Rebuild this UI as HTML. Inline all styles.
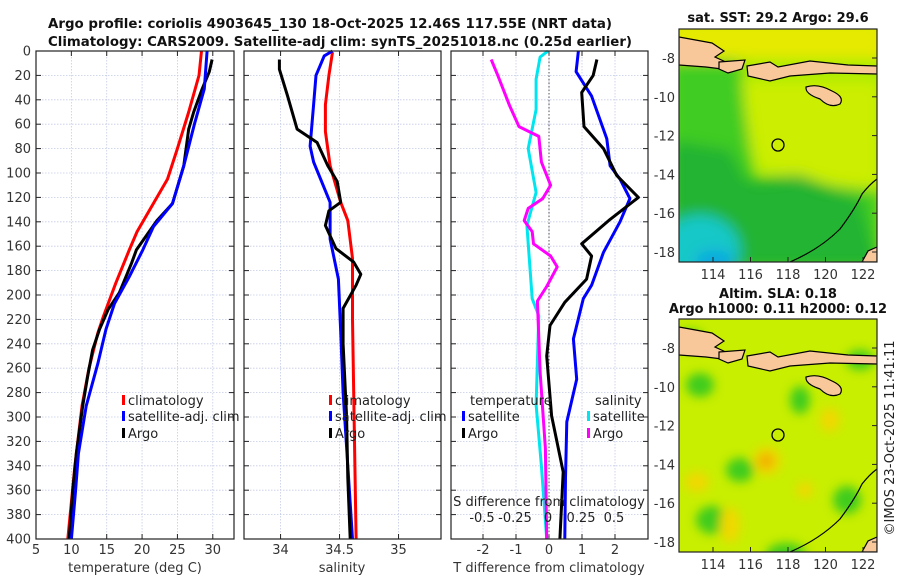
<!DOCTYPE html>
<html><head><meta charset="utf-8">
<style>
html,body{margin:0;padding:0;background:#fff;}
svg{display:block;font-family:"DejaVu Sans","Liberation Sans",sans-serif;}
</style></head>
<body>
<svg id="fig" width="900" height="580" viewBox="0 0 900 580" xmlns="http://www.w3.org/2000/svg">
<defs>
<filter id="blur6" x="-20%" y="-20%" width="140%" height="140%"><feGaussianBlur stdDeviation="7"/></filter>
<filter id="blur4" x="-20%" y="-20%" width="140%" height="140%"><feGaussianBlur stdDeviation="5"/></filter>
<clipPath id="clipTop"><rect x="679" y="29" width="198" height="233"/></clipPath>
<clipPath id="clipBot"><rect x="679" y="319" width="198" height="233"/></clipPath>
</defs>
<text x="48" y="28" textLength="564" lengthAdjust="spacingAndGlyphs" font-size="13" font-weight="bold" fill="#111">Argo profile: coriolis 4903645_130 18-Oct-2025 12.46S 117.55E (NRT data)</text>
<text x="48" y="46" textLength="584" lengthAdjust="spacingAndGlyphs" font-size="13" font-weight="bold" fill="#111">Climatology: CARS2009. Satellite-adj clim: synTS_20251018.nc (0.25d earlier)</text>
<g id="panels"></g>
<g id="maps"></g>
<text transform="translate(894,438) rotate(-90)" text-anchor="middle" font-size="13" fill="#222">©IMOS 23-Oct-2025 11:41:11</text>
</svg>
<script>
// ---------- data ----------
const depthTicks = [0,20,40,60,80,100,120,140,160,180,200,220,240,260,280,300,320,340,360,380,400];
const tempTicks = [5,10,15,20,25,30];
const salTicks = [34,34.5,35];
const salTickLabels = ["34","34.5","35"];
const tdiffTicks = [-2,-1,0,1,2];
const sdiffTicks = [-0.5,-0.25,0,0.25,0.5];
const sdiffTickLabels = ["-0.5","-0.25","0","0.25","0.5"];

const tClimDepth = [0,20,50,80,105,124,148,163,190,218,231,260,291,340,400];
const tClimVal   = [28.4,28.05,26.6,25.0,23.6,21.7,19.3,18.2,16.3,14.5,13.75,12.5,11.5,10.5,9.5];
const tSatDepth  = [0,31,60,94,125,144,163,185,207,228,256,291,330,360,400];
const tSatVal    = [29.2,28.8,27.4,25.9,24.3,21.6,20.1,18.2,16.1,14.9,13.75,12.1,11.0,10.6,10.0];
const tArgoDepth = [7,17,31,50,64,94,125,139,163,174,198,212,228,245,267,291,330,360,400];
const tArgoVal   = [29.9,29.5,28.5,27.3,26.6,25.9,24.3,22.1,19.2,18.5,16.8,15.2,14.0,13.0,12.3,11.6,10.7,10.2,9.7];

const sClimDepth = [1,20,44,66,94,124,139,170,220,280,340,400];
const sClimVal   = [34.44,34.41,34.38,34.38,34.42,34.51,34.57,34.61,34.61,34.62,34.63,34.64];
const sSatDepth  = [0,4,20,44,78,91,124,154,187,230,280,340,400];
const sSatVal    = [34.44,34.37,34.30,34.28,34.25,34.28,34.42,34.42,34.49,34.51,34.53,34.57,34.61];
const sArgoDepth = [7,15,37,64,75,94,107,124,131,143,162,173,183,192,211,240,300,350,400];
const sArgoVal   = [33.99,33.99,34.06,34.14,34.31,34.40,34.48,34.51,34.41,34.38,34.47,34.62,34.68,34.64,34.53,34.53,34.56,34.57,34.59];

const dtSatDepth = [0,17,37,72,94,105,121,140,165,192,203,236,269,304,350,400];
const dtSatVal   = [0.89,0.82,1.29,1.75,1.85,2.15,2.45,2.15,1.65,1.29,1.04,0.74,0.84,0.54,0.50,0.48];
const dtArgoDepth = [7,20,34,62,80,102,120,138,158,168,187,206,225,250,299,345,400];
const dtArgoVal   = [1.45,1.34,0.99,1.06,1.65,2.05,2.71,1.85,0.99,1.29,1.14,0.48,0.03,-0.07,0.08,0.43,0.33];
const dsSatDepth = [0,5,23,48,80,116,143,203,217,290,340,400];
const dsSatVal   = [0,-0.06,-0.09,-0.09,-0.15,-0.09,-0.16,-0.12,-0.07,-0.09,-0.05,-0.01];
const dsArgoDepth = [7,20,45,62,70,91,110,121,129,139,148,158,168,177,193,205,263,326,400];
const dsArgoVal   = [-0.43,-0.38,-0.29,-0.22,-0.07,-0.05,0.02,-0.04,-0.15,-0.18,-0.12,-0.11,0.02,0.07,-0.01,-0.08,-0.06,-0.02,-0.01];

// ---------- helpers ----------
const NS="http://www.w3.org/2000/svg";
function mk(tag,attrs,parent,text){const e=document.createElementNS(NS,tag);for(const k in attrs)e.setAttribute(k,attrs[k]);if(text!==undefined)e.textContent=text;parent.appendChild(e);return e;}
const TOP=51,BOT=539;
const yD=d=>TOP+(d/400)*(BOT-TOP);
const panelsG=document.getElementById('panels');

function panel(x0,x1,xmin,xmax,name){
  const g=mk('g',{},panelsG);
  
  
  const sx=v=>x0+(v-xmin)/(xmax-xmin)*(x1-x0);
  return {g,sx,x0,x1};
}
function grid(P,ticks){
  ticks.forEach(t=>{const l=mk('line',{x1:P.sx(t),x2:P.sx(t),y1:TOP,y2:BOT,stroke:'#c4cbe6','stroke-width':0.8,'stroke-dasharray':'1.5,1.5'},P.g);
    
    mk('line',{x1:P.sx(t),x2:P.sx(t),y1:BOT,y2:BOT-5,stroke:'#222'},P.g);
    mk('line',{x1:P.sx(t),x2:P.sx(t),y1:TOP,y2:TOP+5,stroke:'#222'},P.g);});
  depthTicks.forEach(d=>{if(d>0&&d<400){const l=mk('line',{x1:P.x0,x2:P.x1,y1:yD(d),y2:yD(d),stroke:'#c4cbe6','stroke-width':0.8,'stroke-dasharray':'1.5,1.5'},P.g);
    }
    mk('line',{x1:P.x0,x2:P.x0+5,y1:yD(d),y2:yD(d),stroke:'#222'},P.g);
    mk('line',{x1:P.x1,x2:P.x1-5,y1:yD(d),y2:yD(d),stroke:'#222'},P.g);});
}
function frame(P){const r=mk('rect',{x:P.x0,y:TOP,width:P.x1-P.x0,height:BOT-TOP,fill:'none',stroke:'#222','stroke-width':1.2},P.g);
  }
function line(P,depths,vals,color,name,sx){
  const f=sx||P.sx;
  const pts=depths.map((d,i)=>f(vals[i]).toFixed(1)+','+yD(d).toFixed(1)).join(' ');
  const pl=mk('polyline',{points:pts,fill:'none',stroke:color,'stroke-width':3,'stroke-linejoin':'round'},P.g);
  
  
}
function legendItem(g,x,y,color,label,name){
  const lg=mk('g',{},g);
  
  
  mk('rect',{x:x,y:y-10,width:3,height:10,fill:color},lg);
  mk('text',{x:x+6,y:y,'font-size':13,fill:'#222'},lg,label);
}

// Panel 1: temperature
const P1=panel(36,234,5,33,'temperature-panel');
grid(P1,tempTicks);
tempTicks.forEach(t=>mk('text',{x:P1.sx(t),y:554,'text-anchor':'middle','font-size':13,fill:'#333'},P1.g,String(t)));
depthTicks.forEach(d=>mk('text',{x:31,y:yD(d)+4.5,'text-anchor':'end','font-size':13,fill:'#333'},P1.g,String(d)));
{const t=mk('text',{x:135,y:572,'text-anchor':'middle','font-size':13,fill:'#333'},P1.g,'temperature (deg C)');}
line(P1,tClimDepth,tClimVal,'#ff0000','temp-climatology-line');
line(P1,tArgoDepth,tArgoVal,'#000000','temp-argo-line');
line(P1,tSatDepth,tSatVal,'#0000ff','temp-satellite-line');
frame(P1);
legendItem(P1.g,122,405,'#ff0000','climatology','legend-climatology');
legendItem(P1.g,122,421,'#0000ff','satellite-adj. clim','legend-satellite-adj');
legendItem(P1.g,122,438,'#000000','Argo','legend-argo');

// Panel 2: salinity
const P2=panel(244,441,33.69,35.36,'salinity-panel');
grid(P2,salTicks);
salTicks.forEach((t,i)=>mk('text',{x:P2.sx(t),y:554,'text-anchor':'middle','font-size':13,fill:'#333'},P2.g,salTickLabels[i]));
{const t=mk('text',{x:342,y:572,'text-anchor':'middle','font-size':13,fill:'#333'},P2.g,'salinity');}
line(P2,sClimDepth,sClimVal,'#ff0000','sal-climatology-line');
line(P2,sSatDepth,sSatVal,'#0000ff','sal-satellite-line');
line(P2,sArgoDepth,sArgoVal,'#000000','sal-argo-line');
frame(P2);
legendItem(P2.g,329,405,'#ff0000','climatology','legend-climatology-2');
legendItem(P2.g,329,421,'#0000ff','satellite-adj. clim','legend-satellite-adj-2');
legendItem(P2.g,329,438,'#000000','Argo','legend-argo-2');

// Panel 3: differences
const P3=panel(451,648,-2.97,3.0,'difference-panel');
const sxS=v=>548+(v/0.5)*66;
grid(P3,tdiffTicks);
{const zl=mk('line',{x1:P3.sx(0),x2:P3.sx(0),y1:TOP,y2:BOT,stroke:'#555','stroke-width':1,'stroke-dasharray':'1.5,2'},P3.g);}
tdiffTicks.forEach(t=>mk('text',{x:P3.sx(t),y:554,'text-anchor':'middle','font-size':13,fill:'#333'},P3.g,String(t)));
{const t=mk('text',{x:549,y:572,'text-anchor':'middle','font-size':13,fill:'#333'},P3.g,'T difference from climatology');}
line(P3,dtSatDepth,dtSatVal,'#0000ff','tdiff-satellite-line');
line(P3,dtArgoDepth,dtArgoVal,'#000000','tdiff-argo-line');
line(P3,dsSatDepth,dsSatVal,'#00e5ee','sdiff-satellite-line',sxS);
line(P3,dsArgoDepth,dsArgoVal,'#ff00ff','sdiff-argo-line',sxS);
frame(P3);
{const t=mk('text',{x:549,y:506,'text-anchor':'middle','font-size':13,fill:'#222'},P3.g,'S difference from climatology');}
sdiffTicks.forEach((t,i)=>mk('text',{x:sxS(t),y:522,'text-anchor':'middle','font-size':13,fill:'#222'},P3.g,sdiffTickLabels[i]));
mk('text',{x:470,y:405,'font-size':13,fill:'#222'},P3.g,'temperature');
mk('text',{x:595,y:405,'font-size':13,fill:'#222'},P3.g,'salinity');
legendItem(P3.g,462,421,'#0000ff','satellite','legend-temp-satellite');
legendItem(P3.g,462,438,'#000000','Argo','legend-temp-argo');
legendItem(P3.g,587,421,'#00e5ee','satellite','legend-sal-satellite');
legendItem(P3.g,587,438,'#ff00ff','Argo','legend-sal-argo');

// ---------- maps ----------
const lonTicks=[114,116,118,120,122];
const latTicks=[-8,-10,-12,-14,-16,-18];
const mapsG=document.getElementById('maps');
const lonX=l=>713+(l-114)*18.75;
function landShapes(g,oy){
  const land='#f8c89a';
  const p=(d,name)=>{const e=mk('path',{d:d,fill:land,stroke:'#000','stroke-width':1.2},g);};
  p(`M679,${oy+8} L712,${oy+14} L724,${oy+22} L715,${oy+28} L728,${oy+34} L722,${oy+40} L706,${oy+38} L679,${oy+36} Z`,'land-java');
  p(`M719,${oy+33} L745,${oy+31} L742,${oy+40} L728,${oy+44} L719,${oy+40} Z`,'land-bali');
  p(`M747,${oy+37} L770,${oy+33} L778,${oy+38} L810,${oy+32} L848,${oy+36} L877,${oy+37} L877,${oy+45} L830,${oy+44} L790,${oy+47} L770,${oy+52} L748,${oy+47} Z`,'land-lesser-sunda');
  p(`M806,${oy+58} Q818,${oy+54} 832,${oy+62} Q845,${oy+68} 840,${oy+75} Q830,${oy+80} 820,${oy+70} Q805,${oy+65} 806,${oy+58} Z`,'land-sumba');
  p(`M862,${oy+233} L868,${oy+222} L877,${oy+218} L877,${oy+233} Z`,'land-australia');
  const c=mk('path',{d:`M790,${oy+233} Q820,${oy+220} 840,${oy+200} Q855,${oy+180} 862,${oy+165} Q870,${oy+155} 877,${oy+150}`,fill:'none',stroke:'#000','stroke-width':1.2},g);
  
}
function mapAxes(g,oy){
  mk('rect',{x:679,y:oy,width:198,height:233,fill:'none',stroke:'#222','stroke-width':1.2},g);
  lonTicks.forEach(l=>{mk('text',{x:lonX(l),y:oy+250,'text-anchor':'middle','font-size':13,fill:'#333'},g,String(l));
    mk('line',{x1:lonX(l),x2:lonX(l),y1:oy+233,y2:oy+228,stroke:'#222'},g);});
  latTicks.forEach(la=>{const y=oy+29+(-8-la)*19.4;
    mk('text',{x:675,y:y+5,'text-anchor':'end','font-size':13,fill:'#333'},g,String(la));
    mk('line',{x1:877,x2:872,y1:y,y2:y,stroke:'#222'},g);});
  const c=mk('circle',{cx:778,cy:oy+116,r:6,fill:'none',stroke:'#000','stroke-width':1.3},g);
  
}
// top SST map
{const g=mk('g',{},mapsG);
 const cg=mk('g',{'clip-path':'url(#clipTop)'},g);
 mk('rect',{x:679,y:29,width:198,height:233,fill:'#a8ec00'},cg);
 const b=mk('g',{filter:'url(#blur6)'},cg);
 mk('rect',{x:670,y:20,width:220,height:40,fill:'#e6ea00'},b);
 mk('path',{d:'M740,80 L880,80 L880,200 L820,180 L760,170 L740,120 Z',fill:'#ccee00'},b);
 mk('path',{d:'M670,60 L740,60 L745,110 L755,180 L880,190 L880,270 L670,270 Z',fill:'#40cc20'},b);
 mk('path',{d:'M670,140 L730,150 L745,180 L800,175 L860,200 L880,270 L670,270 Z',fill:'#20b430'},b);
 mk('ellipse',{cx:700,cy:250,rx:40,ry:35,fill:'#18c8c8'},b);
 mk('ellipse',{cx:715,cy:262,rx:20,ry:12,fill:'#10a8e0'},b);
 landShapes(cg,29);
 mapAxes(g,29);
 mk('text',{x:778,y:22,'text-anchor':'middle','font-size':13,'font-weight':'bold',fill:'#111'},g,'sat. SST: 29.2 Argo: 29.6');
}
// bottom SLA map
{const g=mk('g',{},mapsG);
 const cg=mk('g',{'clip-path':'url(#clipBot)'},g);
 mk('rect',{x:679,y:319,width:198,height:233,fill:'#c8ee00'},cg);
 const b=mk('g',{filter:'url(#blur4)'},cg);
 [[740,470,14,12],[786,555,20,12],[847,500,14,14],[712,520,16,14],[700,385,14,12],[800,400,10,14],[860,360,14,10],[690,340,14,10]].forEach(e=>mk('ellipse',{cx:e[0],cy:e[1],rx:e[2],ry:e[3],fill:'#40cc1a'},b));
 [[767,461,14,14],[697,482,12,10],[805,490,8,8],[730,525,10,18],[830,420,10,12]].forEach(e=>mk('ellipse',{cx:e[0],cy:e[1],rx:e[2],ry:e[3],fill:'#f0d800'},b));
 mk('ellipse',{cx:766,cy:461,rx:8,ry:8,fill:'#f0b000'},b);
 landShapes(cg,319);
 mapAxes(g,319);
 mk('text',{x:778,y:298,'text-anchor':'middle','font-size':13,'font-weight':'bold',fill:'#111'},g,'Altim. SLA: 0.18');
 mk('text',{x:778,y:313,'text-anchor':'middle','font-size':13,'font-weight':'bold',fill:'#111'},g,'Argo h1000: 0.11 h2000: 0.12');
}
</script>
</body></html>
